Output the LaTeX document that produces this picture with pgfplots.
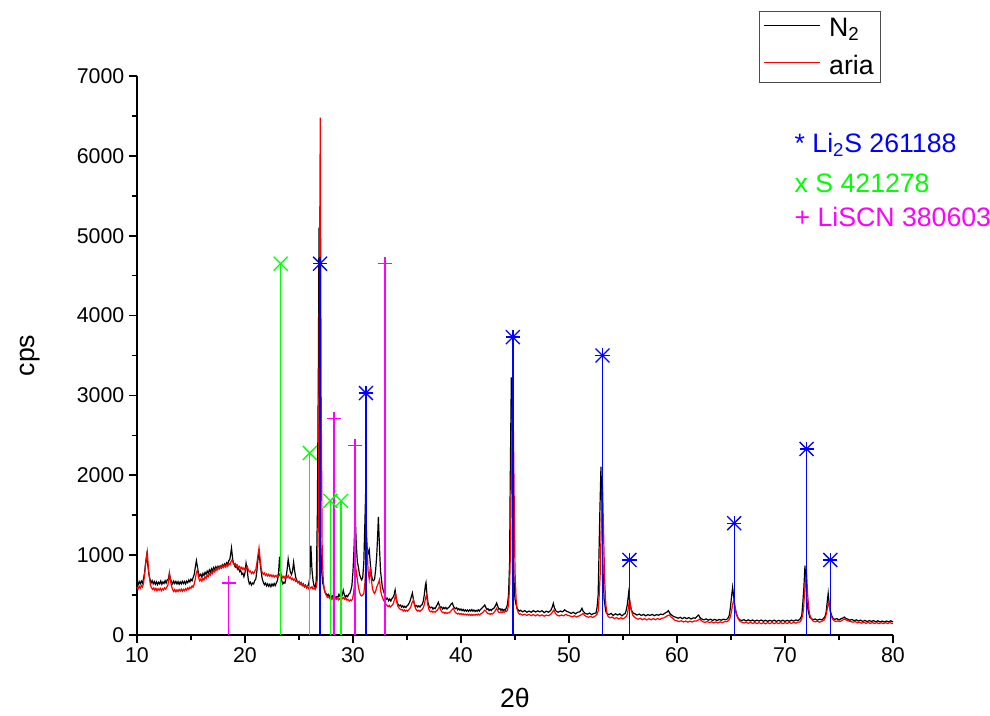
\documentclass[border=0pt]{standalone}
\usepackage{fontspec}
\setmainfont{Liberation Sans}
\usepackage{pgfplots}
\pgfplotsset{compat=1.18}
\usepackage{pgfplotstable}
\definecolor{cblue}{RGB}{0,0,255}
\definecolor{cgreen}{RGB}{0,255,0}
\definecolor{cmag}{RGB}{255,0,255}

\pgfplotstableread{
x y
10.0 660
10.1 630
10.2 670
10.3 640
10.4 675
10.5 650
10.6 700
10.7 780
10.8 900
10.9 1000
11.0 880
11.1 760
11.2 700
11.3 650
11.4 680
11.5 640
11.6 670
11.7 635
11.8 665
11.9 630
12.0 660
12.1 640
12.2 675
12.3 635
12.4 665
12.5 645
12.6 680
12.7 650
12.8 690
12.9 700
13.0 770
13.1 700
13.2 665
13.3 640
13.4 675
13.5 645
13.6 670
13.7 640
13.8 668
13.9 635
14.0 665
14.1 640
14.2 672
14.3 645
14.4 670
14.5 640
14.6 675
14.7 655
14.8 690
14.9 665
15.0 700
15.1 680
15.2 720
15.3 760
15.4 850
15.5 930
15.6 850
15.7 770
15.8 740
15.9 760
16.0 725
16.1 770
16.2 745
16.3 785
16.4 760
16.5 800
16.6 775
16.7 815
16.8 790
16.9 830
17.0 805
17.1 845
17.2 820
17.3 855
17.4 830
17.5 860
17.6 835
17.7 865
17.8 845
17.9 880
18.0 855
18.1 890
18.2 870
18.3 905
18.4 885
18.5 930
18.6 950
18.7 1040
18.75 1090
18.85 960
18.9 920
19.0 880
19.1 850
19.2 870
19.3 825
19.4 845
19.5 795
19.6 810
19.7 760
19.8 775
19.9 730
20.0 780
20.1 900
20.2 820
20.3 700
20.4 640
20.5 660
20.6 625
20.7 650
20.8 640
20.9 680
21.0 700
21.1 800
21.2 950
21.3 1030
21.4 900
21.5 790
21.6 700
21.7 660
21.8 630
21.9 650
22.0 615
22.1 640
22.2 610
22.3 635
22.4 605
22.5 640
22.6 615
22.7 645
22.8 620
22.9 650
23.0 680
23.1 760
23.2 980
23.3 790
23.4 680
23.5 640
23.6 660
23.7 650
23.8 720
23.9 820
24.0 950
24.1 860
24.2 790
24.3 760
24.4 800
24.5 910
24.6 800
24.7 720
24.8 680
24.9 655
25.0 670
25.1 635
25.2 655
25.3 620
25.4 640
25.5 605
25.6 625
25.7 595
25.8 610
25.9 640
26.0 720
26.1 1120
26.2 820
26.3 680
26.4 610
26.5 600
26.6 680
26.7 1500
26.8 3500
26.85 5100
26.92 2600
27.0 1200
27.1 800
27.2 650
27.3 600
27.4 540
27.5 520
27.6 495
27.7 510
27.8 480
27.9 500
28.0 470
28.1 490
28.2 465
28.3 485
28.4 460
28.5 480
28.6 470
28.7 510
28.8 480
28.9 470
29.0 500
29.1 560
29.2 500
29.3 475
29.4 495
29.5 480
29.6 510
29.7 520
29.8 560
29.9 620
30.0 800
30.1 1100
30.2 1520
30.3 1150
30.4 920
30.5 850
30.6 760
30.7 720
30.8 690
30.9 720
31.0 900
31.1 1400
31.17 1780
31.25 1250
31.35 1000
31.45 1050
31.5 1070
31.6 900
31.7 760
31.8 690
31.9 680
32.0 700
32.1 820
32.2 1000
32.3 1300
32.35 1480
32.45 1100
32.55 800
32.7 620
32.8 560
32.9 520
33.0 480
33.1 450
33.2 460
33.3 430
33.4 450
33.5 425
33.6 455
33.7 470
33.8 500
33.9 563
34.0 460
34.1 400
34.2 380
34.3 365
34.4 375
34.5 350
34.6 365
34.7 345
34.8 360
34.9 345
35.0 365
35.1 375
35.2 400
35.3 430
35.4 480
35.5 525
35.6 440
35.7 380
35.8 360
35.9 370
36.0 350
36.1 365
36.2 350
36.3 370
36.4 380
36.5 420
36.6 500
36.7 620
36.76 655
36.85 500
36.95 400
37.05 360
37.15 340
37.3 350
37.4 325
37.5 340
37.6 330
37.7 355
37.8 380
37.9 410
38.0 370
38.1 340
38.2 350
38.3 325
38.4 345
38.5 330
38.6 345
38.7 325
38.8 340
38.9 350
39.0 370
39.1 390
39.2 400
39.3 360
39.4 340
39.5 330
39.6 340
39.7 315
39.8 330
39.9 310
40.0 325
40.1 305
40.2 320
40.3 300
40.4 315
40.5 298
40.6 312
40.7 295
40.8 315
40.9 300
41.0 318
41.1 298
41.2 312
41.3 295
41.4 310
41.5 298
41.6 315
41.7 300
41.8 320
41.9 330
42.0 345
42.1 360
42.2 375
42.3 345
42.4 320
42.5 330
42.6 305
42.7 320
42.8 305
42.9 325
43.0 330
43.1 345
43.2 370
43.3 400
43.4 360
43.5 325
43.6 330
43.7 310
43.8 325
43.9 305
44.0 320
44.1 310
44.2 340
44.3 380
44.4 500
44.5 900
44.55 1800
44.66 3226
44.75 2200
44.85 900
44.95 550
45.0 450
45.1 380
45.2 330
45.3 315
45.4 300
45.5 310
45.7 290
45.9 305
46.1 285
46.3 300
46.5 285
46.7 305
46.9 288
47.1 302
47.3 290
47.5 305
47.7 280
47.9 298
48.1 285
48.3 305
48.45 350
48.55 396
48.65 340
48.8 300
49.0 285
49.2 300
49.4 290
49.6 315
49.8 295
50.0 285
50.2 270
50.4 285
50.6 265
50.8 285
51.0 290
51.1 310
51.2 334
51.3 300
51.5 270
51.7 260
51.9 275
52.1 255
52.3 270
52.5 275
52.6 350
52.7 500
52.85 1500
52.96 2108
53.05 1500
53.15 800
53.25 450
53.4 300
53.5 270
53.7 255
53.9 270
54.1 245
54.3 265
54.5 250
54.7 265
54.9 240
55.1 262
55.2 270
55.3 310
55.4 380
55.53 534
55.65 400
55.75 320
55.9 280
56.1 265
56.3 250
56.5 262
56.7 245
56.9 258
57.1 240
57.3 255
57.5 245
57.7 258
57.9 242
58.1 255
58.3 248
58.5 262
58.7 255
58.9 275
59.1 290
59.2 305
59.35 270
59.5 250
59.7 230
59.9 222
60.1 210
60.3 222
60.5 205
60.7 220
60.9 205
61.1 218
61.3 200
61.5 215
61.7 210
61.9 240
62.0 250
62.15 215
62.3 200
62.5 190
62.7 202
62.9 185
63.1 198
63.3 183
63.5 196
63.7 182
63.9 195
64.1 185
64.3 198
64.5 190
64.7 205
64.85 250
64.95 350
65.05 480
65.15 597
65.25 480
65.35 360
65.5 260
65.65 215
65.8 190
66.0 182
66.2 192
66.4 176
66.6 190
66.8 175
67.0 188
67.2 172
67.4 186
67.6 174
67.8 188
68.0 172
68.2 185
68.4 170
68.6 184
68.8 172
69.0 186
69.2 170
69.4 184
69.6 172
69.8 185
70.0 170
70.2 184
70.4 172
70.6 186
70.8 174
71.0 188
71.2 180
71.4 200
71.55 240
71.65 400
71.75 600
71.85 868
71.95 600
72.05 400
72.15 300
72.3 220
72.45 205
72.6 192
72.8 200
73.0 185
73.2 198
73.4 190
73.55 205
73.7 230
73.8 280
73.9 400
74.0 522
74.1 380
74.2 300
74.3 250
74.45 210
74.6 195
74.8 205
75.0 188
75.2 205
75.4 215
75.5 225
75.65 205
75.8 200
76.0 185
76.2 195
76.4 178
76.6 190
76.8 175
77.0 186
77.2 170
77.4 183
77.6 168
77.8 180
78.0 170
78.2 180
78.4 165
78.6 178
78.8 163
79.0 175
79.2 162
79.4 176
79.6 164
79.8 178
80.0 165
}\dataN

\pgfplotstableread{
x y
10.0 600
10.1 575
10.2 610
10.3 585
10.4 620
10.5 600
10.6 640
10.7 750
10.8 900
10.95 1040
11.05 850
11.15 720
11.25 620
11.35 590
11.45 570
11.55 590
11.65 560
11.75 585
11.85 555
11.95 580
12.05 560
12.15 585
12.25 555
12.35 580
12.45 565
12.55 590
12.65 575
12.75 600
12.85 620
12.95 700
13.0 775
13.1 680
13.2 610
13.3 570
13.4 545
13.5 570
13.6 540
13.7 565
13.8 545
13.9 570
14.0 550
14.1 575
14.2 548
14.3 572
14.4 555
14.5 580
14.6 560
14.7 590
14.8 570
14.9 600
15.0 585
15.1 615
15.2 600
15.3 640
15.4 700
15.5 780
15.6 815
15.7 720
15.8 680
15.9 700
16.0 675
16.1 710
16.2 690
16.3 730
16.4 710
16.5 750
16.6 730
16.7 770
16.8 750
16.9 790
17.0 770
17.1 810
17.2 790
17.3 830
17.4 810
17.5 845
17.6 825
17.7 855
17.8 835
17.9 865
18.0 845
18.1 870
18.2 850
18.3 880
18.4 860
18.5 895
18.6 880
18.7 920
18.8 940
18.9 905
19.0 880
19.1 895
19.2 860
19.3 875
19.4 845
19.5 860
19.6 830
19.7 848
19.8 820
19.9 840
20.0 815
20.1 840
20.2 860
20.3 820
20.4 790
20.5 800
20.6 770
20.7 790
20.8 770
20.9 800
21.0 820
21.1 900
21.2 1000
21.3 1090
21.4 950
21.5 830
21.6 780
21.7 760
21.8 775
21.9 745
22.0 765
22.1 740
22.2 760
22.3 735
22.4 755
22.5 730
22.6 750
22.7 725
22.8 745
22.9 730
23.0 750
23.1 735
23.2 760
23.3 730
23.4 745
23.5 715
23.6 735
23.7 710
23.8 740
23.9 720
24.0 745
24.1 710
24.2 725
24.3 695
24.4 710
24.5 685
24.6 700
24.7 670
24.8 685
24.9 655
25.0 665
25.1 635
25.2 650
25.3 620
25.4 635
25.5 605
25.6 620
25.7 590
25.8 605
25.9 580
26.0 600
26.1 585
26.2 605
26.3 575
26.4 590
26.5 570
26.6 600
26.7 700
26.8 1500
26.9 4500
26.97 6480
27.05 3000
27.15 1000
27.25 680
27.35 560
27.45 520
27.55 490
27.65 470
27.75 480
27.85 455
27.95 470
28.05 445
28.15 465
28.25 445
28.35 462
28.45 448
28.55 465
28.65 440
28.75 455
28.85 445
28.95 470
29.05 455
29.15 470
29.25 445
29.35 460
29.45 435
29.55 445
29.65 425
29.75 440
29.85 430
29.95 450
30.05 520
30.15 650
30.3 800
30.4 700
30.5 600
30.6 540
30.7 500
30.8 490
30.9 500
31.0 520
31.1 650
31.2 900
31.3 1100
31.4 800
31.5 700
31.6 850
31.7 700
31.8 580
31.9 540
32.0 520
32.1 550
32.2 600
32.35 650
32.45 690
32.55 560
32.65 500
32.75 460
32.85 430
32.95 410
33.05 385
33.15 370
33.25 355
33.35 370
33.45 350
33.55 365
33.65 375
33.75 400
33.85 450
33.95 510
34.05 420
34.15 360
34.25 340
34.35 325
34.45 315
34.55 320
34.65 300
34.75 315
34.85 298
34.95 310
35.05 300
35.15 315
35.25 330
35.35 350
35.45 400
35.6 438
35.7 370
35.8 330
35.9 310
36.0 300
36.1 310
36.2 295
36.3 310
36.4 320
36.5 340
36.6 380
36.7 450
36.8 500
36.9 400
37.0 330
37.1 300
37.2 290
37.3 300
37.4 285
37.5 295
37.6 285
37.7 300
37.8 310
37.9 330
38.0 355
38.1 320
38.2 295
38.3 280
38.4 285
38.5 270
38.6 282
38.7 268
38.8 280
38.9 275
39.0 290
39.1 305
39.2 320
39.3 334
39.4 300
39.5 280
39.6 270
39.7 262
39.8 272
39.9 258
40.0 268
40.1 255
40.2 265
40.3 252
40.4 262
40.5 250
40.6 260
40.7 248
40.8 258
40.9 245
41.0 258
41.1 246
41.2 257
41.3 248
41.4 260
41.5 250
41.6 262
41.7 250
41.8 262
41.9 270
42.0 280
42.1 295
42.2 310
42.3 300
42.4 280
42.5 265
42.6 270
42.7 258
42.8 268
42.9 262
43.0 275
43.1 290
43.2 310
43.3 334
43.4 305
43.5 285
43.6 280
43.7 290
43.8 278
43.9 292
44.0 285
44.1 298
44.2 295
44.3 310
44.4 380
44.5 600
44.6 1200
44.7 2500
44.8 3150
44.9 2000
45.0 800
45.1 450
45.2 320
45.3 280
45.4 260
45.5 265
45.7 248
45.9 260
46.1 245
46.3 258
46.5 242
46.7 256
46.9 240
47.1 255
47.3 238
47.5 252
47.7 236
47.9 250
48.1 242
48.3 258
48.45 285
48.6 313
48.75 270
48.9 250
49.1 238
49.3 250
49.5 240
49.7 258
49.9 245
50.1 238
50.3 228
50.5 240
50.7 225
50.9 238
51.1 250
51.3 270
51.45 245
51.6 232
51.8 222
52.0 232
52.2 220
52.4 235
52.6 260
52.7 300
52.8 500
52.9 800
53.0 1500
53.1 1878
53.2 1300
53.3 700
53.4 400
53.5 280
53.6 235
53.8 215
54.0 225
54.2 205
54.4 218
54.6 200
54.8 215
55.0 202
55.2 220
55.3 235
55.4 260
55.5 340
55.6 438
55.7 370
55.8 300
55.9 250
56.0 230
56.2 210
56.4 198
56.6 210
56.8 192
57.0 205
57.2 190
57.4 204
57.6 190
57.8 205
58.0 192
58.2 205
58.4 195
58.6 210
58.8 215
59.0 232
59.15 245
59.3 250
59.45 225
59.6 210
59.8 185
60.0 178
60.2 168
60.4 178
60.6 162
60.8 175
61.0 160
61.2 174
61.4 162
61.6 176
61.8 175
62.0 190
62.1 200
62.25 180
62.4 165
62.6 158
62.8 168
63.0 155
63.2 166
63.4 152
63.6 164
63.8 152
64.0 165
64.2 155
64.4 168
64.6 165
64.8 185
64.95 230
65.05 300
65.15 380
65.25 438
65.35 370
65.45 300
65.55 240
65.7 195
65.85 170
66.0 160
66.2 150
66.4 160
66.6 146
66.8 158
67.0 145
67.2 156
67.4 143
67.6 155
67.8 142
68.0 154
68.2 140
68.4 155
68.6 142
68.8 156
69.0 142
69.2 155
69.4 143
69.6 156
69.8 142
70.0 155
70.2 145
70.4 158
70.6 145
70.8 158
71.0 148
71.2 160
71.4 165
71.55 200
71.7 300
71.8 500
71.9 700
72.0 772
72.1 500
72.2 330
72.3 250
72.45 200
72.6 175
72.8 165
73.0 172
73.2 160
73.4 172
73.6 185
73.75 220
73.85 280
73.95 360
74.05 397
74.15 330
74.25 250
74.4 200
74.55 178
74.7 170
74.9 175
75.1 168
75.3 185
75.5 200
75.7 185
75.9 175
76.1 168
76.3 160
76.5 168
76.7 152
76.9 162
77.1 148
77.3 160
77.5 146
77.7 158
77.9 145
78.1 156
78.3 144
78.5 155
78.7 142
78.9 154
79.1 142
79.3 155
79.5 143
79.7 156
79.9 144
80.0 146
}\dataA

\pgfplotstableread{
x y
26.95 4650
31.2 3030
44.8 3730
53.1 3500
55.6 940
65.3 1400
72.0 2330
74.2 940
}\dataLiS

\pgfplotstableread{
x y
23.3 4650
26.0 2280
27.9 1680
28.9 1680
}\dataS

\pgfplotstableread{
x y
18.5 650
28.25 2710
30.2 2370
32.95 4650
}\dataLiSCN

\begin{document}
\begin{tikzpicture}
\path[use as bounding box] (-102.75pt,-60pt) rectangle (639.75pt,476.25pt);
\begin{axis}[
  at={(0,0)}, anchor=south west,
  scale only axis, width=567pt, height=419.25pt,
  xmin=10, xmax=80, ymin=0, ymax=7000,
  axis lines=left,
  axis line style={-, line width=1.4pt},
  xtick={10,20,...,80}, ytick={0,1000,...,7000},
  minor tick num=1,
  tick align=outside,
  major tick length=6pt, minor tick length=4pt,
  tick style={line width=1.2pt, black},
  scaled ticks=false,
  /pgf/number format/assume math mode=true,
  /pgf/number format/1000 sep={},
  ticklabel style={font=\fontsize{16}{18}\selectfont},
  xlabel={2θ}, ylabel={cps},
  label style={font=\fontsize{20}{22}\selectfont},
  xlabel style={at={(axis description cs:0.5,0)}, anchor=center, yshift=-47pt},
  ylabel style={at={(axis description cs:0,0.5)}, anchor=center, yshift=80pt},
  clip=false,
  legend style={at={(axis description cs:0.984,1.116)}, anchor=north east,
    draw=black!70, line width=0.8pt, fill=white,
    font=\fontsize{20}{22}\selectfont, row sep=8pt, inner sep=3pt},
  legend cell align=left,
  legend image code/.code={\draw[#1, line width=0.5pt] (0pt,0.5ex) -- (42pt,0.5ex);},
]
\addplot[black, line width=0.9pt] table {\dataN};
\addlegendentry{\hspace{5pt}N\textsubscript{2}}
\addplot[red, line width=0.9pt] table {\dataA};
\addlegendentry{\hspace{5pt}aria}

\addplot[cgreen, line width=1pt, ycomb, mark=x, mark size=7.4pt, mark options={line width=1pt}, forget plot] table {\dataS};
\addplot[cmag, line width=1pt, ycomb, mark=+, mark size=5.3pt, mark options={line width=1pt}, forget plot] table {\dataLiSCN};
\addplot[cblue, line width=1pt, ycomb, mark=+, mark size=5.3pt, mark options={line width=1pt}, forget plot] table {\dataLiS};
\addplot[cblue, only marks, mark=x, mark size=7.4pt, mark options={line width=1pt}, forget plot] table {\dataLiS};

\node[anchor=base west, text=cblue, font=\fontsize{20}{22}\selectfont] at (axis cs:70.46,6048) {* Li\textsubscript{2}S 261188};
\node[anchor=base west, text=cgreen, font=\fontsize{20}{22}\selectfont] at (axis cs:70.46,5535) {x S 421278};
\node[anchor=base west, text=cmag, font=\fontsize{20}{22}\selectfont] at (axis cs:70.46,5121) {+ LiSCN 380603};
\end{axis}
\end{tikzpicture}
\end{document}
